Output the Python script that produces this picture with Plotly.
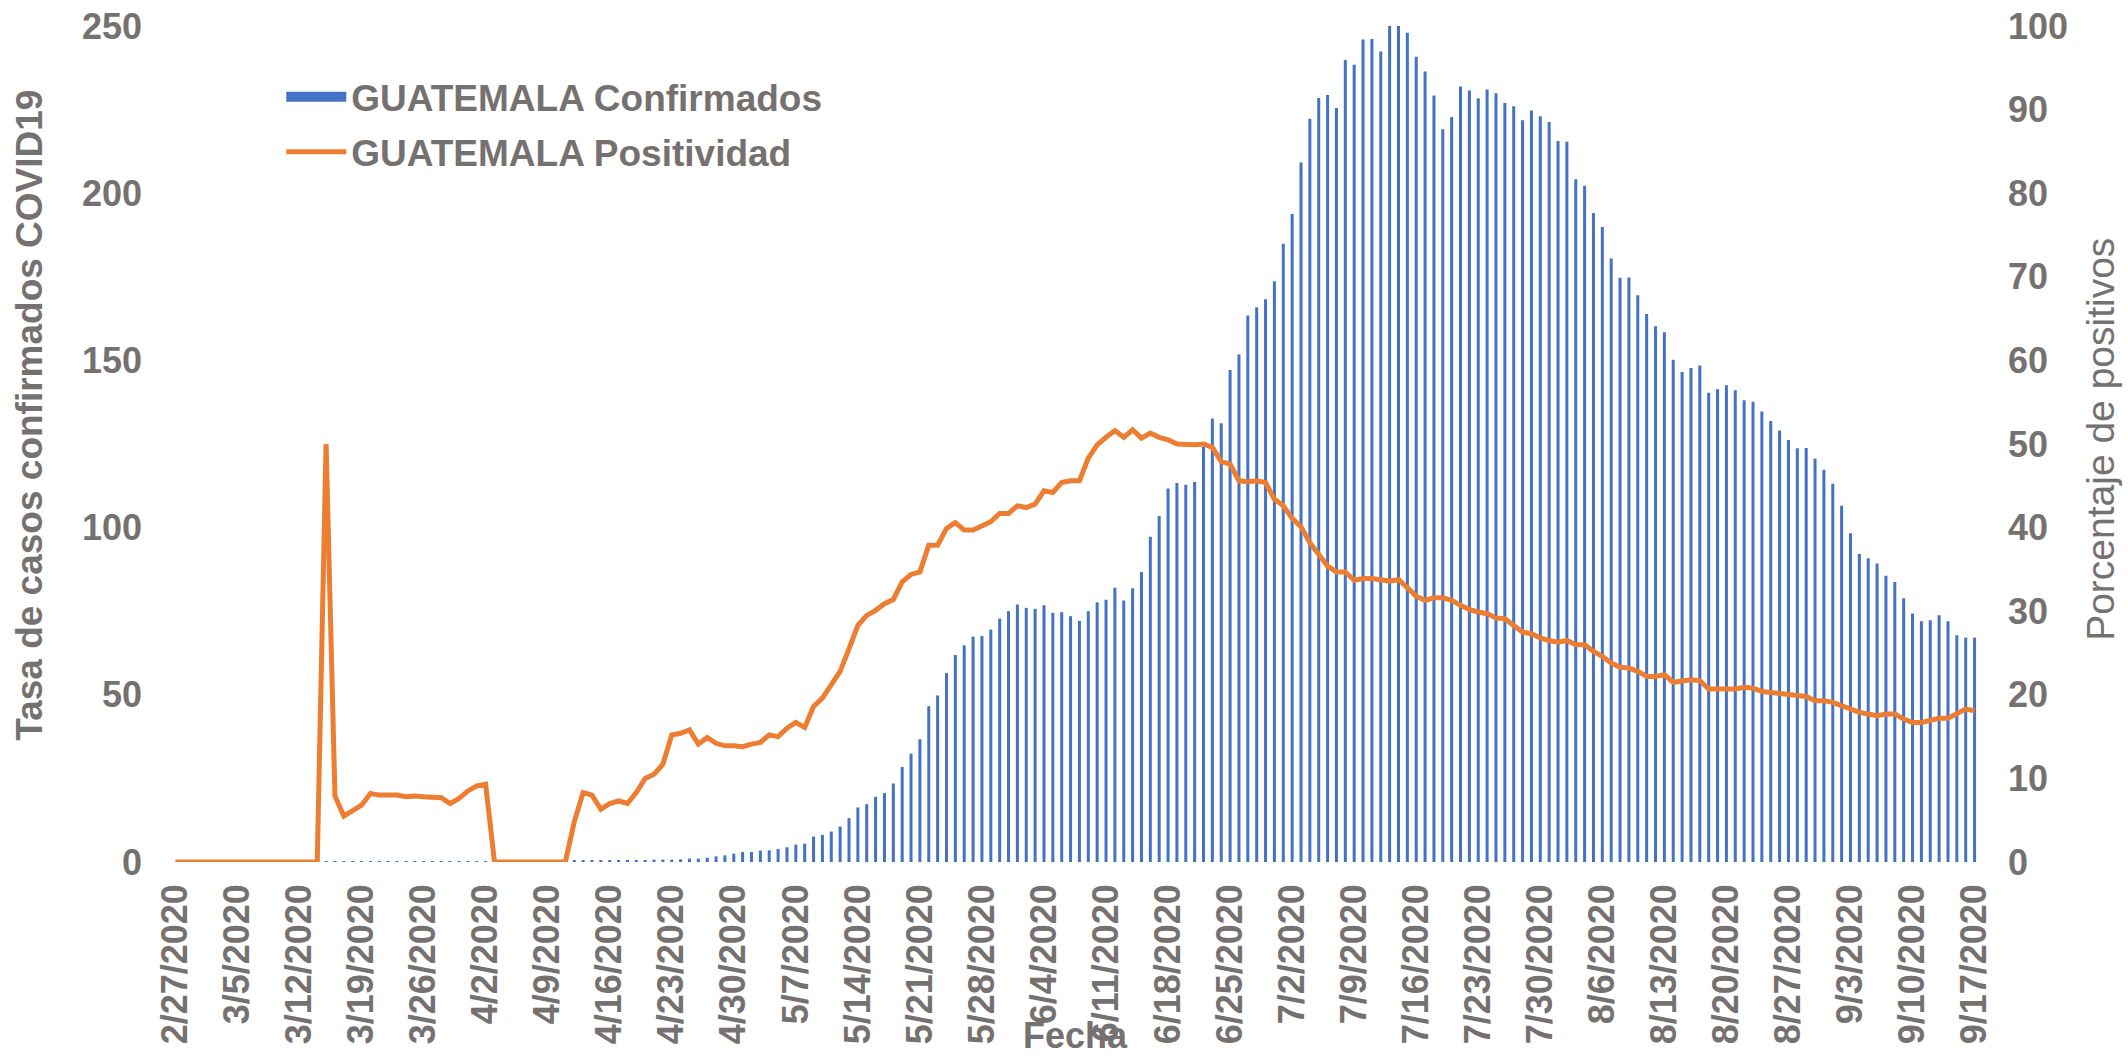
import pandas as pd
import plotly.graph_objects as go

# categorias: un dia por barra, 27 feb - 17 sep 2020
fechas = [f"{d.month}/{d.day}/{d.year}" for d in pd.date_range("2020-02-27", "2020-09-17")]
etiquetas = fechas[::7]

# tasa de casos confirmados (eje izquierdo)
confirmados = [
    0, 0, 0, 0, 0, 0, 0, 0, 0, 0, 0, 0, 0, 0, 0, 0, 0,
    0.1, 0.1, 0.1, 0.2, 0.1, 0.2, 0.2, 0.1, 0.2, 0.2, 0.2, 0.2, 0.3, 0.2, 0.2, 0.3, 0.3, 0.3, 0.3,
    0.3, 0.3, 0.4, 0.3, 0.4, 0.4, 0.4, 0.4, 0.5, 0.4, 0.5, 0.5,
    0.5, 0.5, 0.6, 0.5, 0.6, 0.6, 0.7, 0.7,
    0.7, 0.8, 1.0, 1.0, 1.3, 1.7, 2.0, 2.5, 3.0, 3.0, 3.4, 3.5, 3.9, 4.4, 5.2, 5.5,
    7.6, 8.1, 9.1, 10.6, 13.1, 16.3, 17.3, 19.5, 20.6, 23.5, 28.4, 32.4, 36.7, 46.6,
    49.8, 56.5, 61.9, 64.8, 67.4, 67.6, 69.5, 72.8, 75.0, 77.0,
    76.0, 75.7, 76.8, 74.5, 74.7, 73.5, 72.1, 75.0, 77.7, 78.4, 82.0, 78.2, 81.9, 86.7,
    97.3, 103.5, 111.7, 113.3, 112.8, 113.6, 124.2, 132.6, 131.2, 147.1, 151.8, 163.4,
    165.9, 168.3, 173.7, 184.9, 193.8, 209.2, 222.3, 228.5, 229.4, 225.5, 239.8, 238.4,
    246.0, 246.1, 242.4, 250.7, 250.7,
    248.0, 240.8, 236.4, 229.2, 219.1, 222.8, 231.9, 230.7, 228.4, 231.0, 229.9, 227.0,
    226.0, 221.8, 224.7, 223.0, 221.3, 215.6, 215.4, 204.2, 202.2, 194.1, 189.9, 180.5,
    174.7, 174.8, 169.5, 163.9, 160.2, 158.4, 150.2, 146.5, 147.7, 148.5, 140.3, 141.4,
    142.6, 141.1, 138.1, 137.6, 134.7, 131.9, 129.0,
    126.2, 123.7, 123.8, 120.6, 117.3, 113.1, 106.5, 98.3, 92.1, 90.8, 89.3, 85.6,
    83.7, 78.9, 74.3, 72.0, 72.3, 73.8, 72.0, 67.8, 67.1, 67.1,
]

# porcentaje de positividad (eje derecho)
positividad = [
    0, 0, 0, 0, 0, 0, 0, 0, 0, 0, 0, 0, 0, 0, 0, 0, 0,
    50.0,
    7.9, 5.5, 6.2, 6.8, 8.2, 8.0, 8.0, 8.0, 7.8, 7.9, 7.8, 7.8, 7.7, 7.0, 7.6, 8.5, 9.1, 9.3,
    0, 0, 0, 0, 0, 0, 0, 0, 0,
    4.8, 8.3, 8.0, 6.3, 7.0, 7.3, 7.0, 8.3, 10.0, 10.5, 11.7, 15.2, 15.4, 15.8, 14.1, 14.9,
    14.2, 13.9, 13.9, 13.8, 14.1, 14.3, 15.2, 15.0, 16.0, 16.7, 16.1, 18.6, 19.6, 21.1,
    22.8, 25.5, 28.3, 29.5, 30.1, 30.9, 31.4, 33.5, 34.4, 34.7, 37.9, 37.9, 39.9, 40.6,
    39.7, 39.7, 40.2, 40.7, 41.7, 41.7, 42.6,
    42.4, 42.8, 44.4, 44.2, 45.4, 45.6, 45.6, 48.3, 49.9, 50.8, 51.6, 50.8, 51.7, 50.7,
    51.3, 50.8, 50.5, 50.0, 49.9, 49.9, 50.0, 49.6, 47.9, 47.6, 45.6, 45.5, 45.6, 45.4,
    43.4, 42.6, 41.1, 40.1, 38.2, 36.7, 35.4, 34.7, 34.7, 33.7, 33.9, 33.9,
    33.7, 33.6, 33.8, 32.7, 31.8, 31.3, 31.6, 31.6, 31.3, 30.7, 30.2, 29.9, 29.7, 29.2,
    29.1, 28.3, 27.5, 27.3, 26.8, 26.5, 26.3, 26.5, 26.0, 26.0, 25.2, 24.6, 23.8, 23.3,
    23.2, 22.8, 22.2, 22.2, 22.4, 21.5, 21.7, 21.8, 21.7, 20.7, 20.7, 20.7, 20.7, 20.9, 20.8,
    20.4, 20.3, 20.1, 20.0, 20.0, 19.8, 19.3, 19.3, 19.1, 18.7, 18.3, 17.9, 17.7, 17.5,
    17.7, 17.7, 17.1, 16.7, 16.7, 17.0, 17.2, 17.2, 17.8, 18.3, 18.1,
]

GRIS = "#767171"
AZUL = "#4472C4"
NARANJA = "#ED7D31"
FUENTE = "Arial, Liberation Sans, sans-serif"

fig = go.Figure()

# entrada de leyenda para las barras (rectangulo ancho como en Excel)
fig.add_trace(go.Scatter(
    x=[None], y=[None], name="GUATEMALA Confirmados", mode="lines",
    line=dict(color=AZUL, width=19), legendgroup="conf",
))

fig.add_trace(go.Bar(
    x=fechas, y=confirmados, name="GUATEMALA Confirmados",
    marker=dict(color=AZUL, line=dict(width=0)),
    cliponaxis=False, showlegend=False, legendgroup="conf",
))

fig.add_trace(go.Scatter(
    x=fechas, y=positividad, name="GUATEMALA Positividad",
    mode="lines", line=dict(color=NARANJA, width=5),
    yaxis="y2", cliponaxis=False, legendgroup="pos",
))

tick_font = dict(family=FUENTE, size=36, color=GRIS, weight="bold")

fig.update_layout(
    width=2128, height=1057,
    margin=dict(l=171, r=149, t=26, b=195),
    paper_bgcolor="white", plot_bgcolor="white",
    bargap=0.66,
    showlegend=True,
    legend=dict(
        x=0.061, y=0.952, xanchor="left", yanchor="top",
        font=dict(family=FUENTE, size=37, color=GRIS, weight="bold"),
        bgcolor="rgba(0,0,0,0)", itemwidth=60, tracegroupgap=4,
    ),
    xaxis=dict(
        type="category", tickmode="array", tickvals=etiquetas, ticktext=etiquetas,
        tickangle=-90, tickfont=tick_font, showgrid=False, showline=False,
        zeroline=False, ticks="", ticklabelstandoff=14, automargin=False,
    ),
    yaxis=dict(
        range=[0, 250], dtick=50, tickfont=tick_font, showgrid=False,
        showline=False, zeroline=False, ticks="", ticklabelstandoff=28,
        automargin=False,
    ),
    yaxis2=dict(
        range=[0, 100], dtick=10, overlaying="y", side="right", tickfont=tick_font,
        showgrid=False, showline=False, zeroline=False, ticks="", ticklabelstandoff=28,
        automargin=False,
    ),
    annotations=[
        dict(text="Tasa de casos confirmados COVID19", textangle=-90,
             xref="paper", yref="paper", x=-0.078, y=0.535,
             xanchor="center", yanchor="middle", showarrow=False,
             font=dict(family=FUENTE, size=37, color=GRIS, weight="bold")),
        dict(text="Porcentaje de positivos", textangle=-90,
             xref="paper", yref="paper", x=1.0675, y=0.505,
             xanchor="center", yanchor="middle", showarrow=False,
             font=dict(family=FUENTE, size=39, color=GRIS)),
        dict(text="Fecha", xref="paper", yref="paper", x=0.5, y=-0.181,
             xanchor="center", yanchor="top", showarrow=False,
             font=dict(family=FUENTE, size=36, color=GRIS, weight="bold")),
    ],
)

fig.write_html("out.html", config={"displayModeBar": False},
               post_script="document.body.style.margin='0';")
